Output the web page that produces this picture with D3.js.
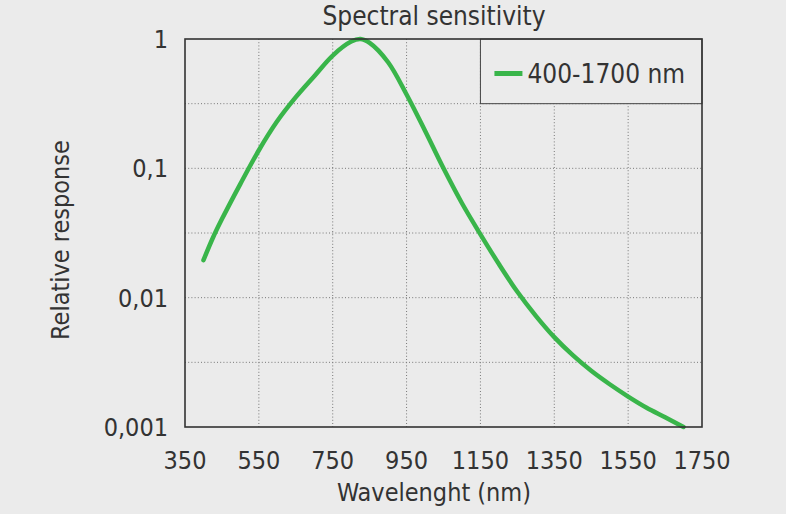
<!DOCTYPE html>
<html>
<head>
<meta charset="utf-8">
<script src="https://cdn.jsdelivr.net/npm/d3@7"></script>
<style>
  body { margin: 0; background: #ebebeb; }
  svg { display: block; }
  text { font-family: "DejaVu Sans Condensed", "DejaVu Sans", sans-serif; fill: #333; }
</style>
</head>
<body>
<div id="chart"></div>
<script>
// wavelength (nm) and relative response
var wavelengths = [400, 425, 450, 500, 550, 600, 650, 700, 750, 800, 825, 850, 900, 950, 1000,
                   1050, 1100, 1150, 1200, 1250, 1300, 1350, 1400, 1450, 1500, 1550, 1600, 1650, 1700];
var response = [0.0195, 0.0288, 0.0405, 0.0759, 0.138, 0.232, 0.355, 0.516, 0.745, 0.955, 1.0, 0.933, 0.661, 0.372, 0.195,
                0.100, 0.0537, 0.0309, 0.0182, 0.0111, 0.00724, 0.00495, 0.00359, 0.00272, 0.00214, 0.00172, 0.00141, 0.00119, 0.001];

var xTicks = [350, 550, 750, 950, 1150, 1350, 1550, 1750];
var yTicks = [1, 0.1, 0.01, 0.001];
var yTickLabels = ["1", "0,1", "0,01", "0,001"];
var yHalfTicks = [0.3162, 0.03162, 0.003162];
var seriesName = "400-1700 nm";

var W = 786, H = 514;
var margin = {top: 39, right: 84, bottom: 87, left: 185},
    width = W - margin.left - margin.right,
    height = H - margin.top - margin.bottom;

var svg = d3.select("#chart").append("svg")
    .attr("width", W)
    .attr("height", H);

var g = svg.append("g")
    .attr("transform", "translate(" + margin.left + "," + margin.top + ")");

var x = d3.scaleLinear().domain([350, 1750]).range([0, width]);
var y = d3.scaleLog().domain([0.001, 1]).range([height, 0]);

var data = wavelengths.map(function(w, i) { return {nm: w, v: response[i]}; });

// dotted grid
var gridStyle = function(sel) {
  sel.attr("stroke", "#777").attr("stroke-width", 1).attr("stroke-dasharray", "1,2.2");
};
g.selectAll(".vgrid").data(xTicks.slice(1, -1)).enter().append("line")
    .attr("x1", function(d) { return x(d); }).attr("x2", function(d) { return x(d); })
    .attr("y1", 0).attr("y2", height)
    .call(gridStyle);
g.selectAll(".hgrid").data(yTicks.slice(1, -1).concat(yHalfTicks)).enter().append("line")
    .attr("y1", function(d) { return y(d); }).attr("y2", function(d) { return y(d); })
    .attr("x1", 0).attr("x2", width)
    .call(gridStyle);

// legend box (drawn under the curve)
var legX = x(1150), legY = y(1), legW = width - x(1150), legH = y(0.3162) - y(1);
g.append("rect")
    .attr("x", legX).attr("y", legY)
    .attr("width", legW).attr("height", legH)
    .attr("fill", "#ebebeb")
    .attr("stroke", "#444").attr("stroke-width", 1);
g.append("line")
    .attr("x1", legX + 14).attr("x2", legX + 42)
    .attr("y1", legY + 34.5).attr("y2", legY + 34.5)
    .attr("stroke", "#39b54a").attr("stroke-width", 5);
g.append("text")
    .attr("x", legX + 47).attr("y", legY + 44)
    .attr("font-size", "26px")
    .text(seriesName);

// curve
var line = d3.line()
    .x(function(d) { return x(d.nm); })
    .y(function(d) { return y(d.v); })
    .curve(d3.curveCatmullRom.alpha(0.5));

g.append("path")
    .datum(data)
    .attr("d", line)
    .attr("fill", "none")
    .attr("stroke", "#39b54a")
    .attr("stroke-width", 4.5)
    .attr("stroke-linecap", "round")
    .attr("stroke-linejoin", "round");

// frame
g.append("rect")
    .attr("width", width).attr("height", height)
    .attr("fill", "none")
    .attr("stroke", "#333").attr("stroke-width", 1.6);

// tick labels
g.selectAll(".xlab").data(xTicks).enter().append("text")
    .attr("x", function(d) { return x(d); })
    .attr("y", height + 42)
    .attr("text-anchor", "middle")
    .attr("font-size", "25px")
    .text(function(d) { return d; });

g.selectAll(".ylab").data(yTicks).enter().append("text")
    .attr("x", -17)
    .attr("y", function(d) { return y(d); })
    .attr("dy", "0.36em")
    .attr("text-anchor", "end")
    .attr("font-size", "25px")
    .text(function(d, i) { return yTickLabels[i]; });

// titles
svg.append("text")
    .attr("x", 434).attr("y", 25)
    .attr("text-anchor", "middle")
    .attr("font-size", "26px")
    .text("Spectral sensitivity");

svg.append("text")
    .attr("x", 434).attr("y", 501)
    .attr("text-anchor", "middle")
    .attr("font-size", "25px")
    .text("Wavelenght (nm)");

svg.append("text")
    .attr("transform", "translate(69,240) rotate(-90)")
    .attr("text-anchor", "middle")
    .attr("font-size", "25px")
    .text("Relative response");
</script>
</body>
</html>
